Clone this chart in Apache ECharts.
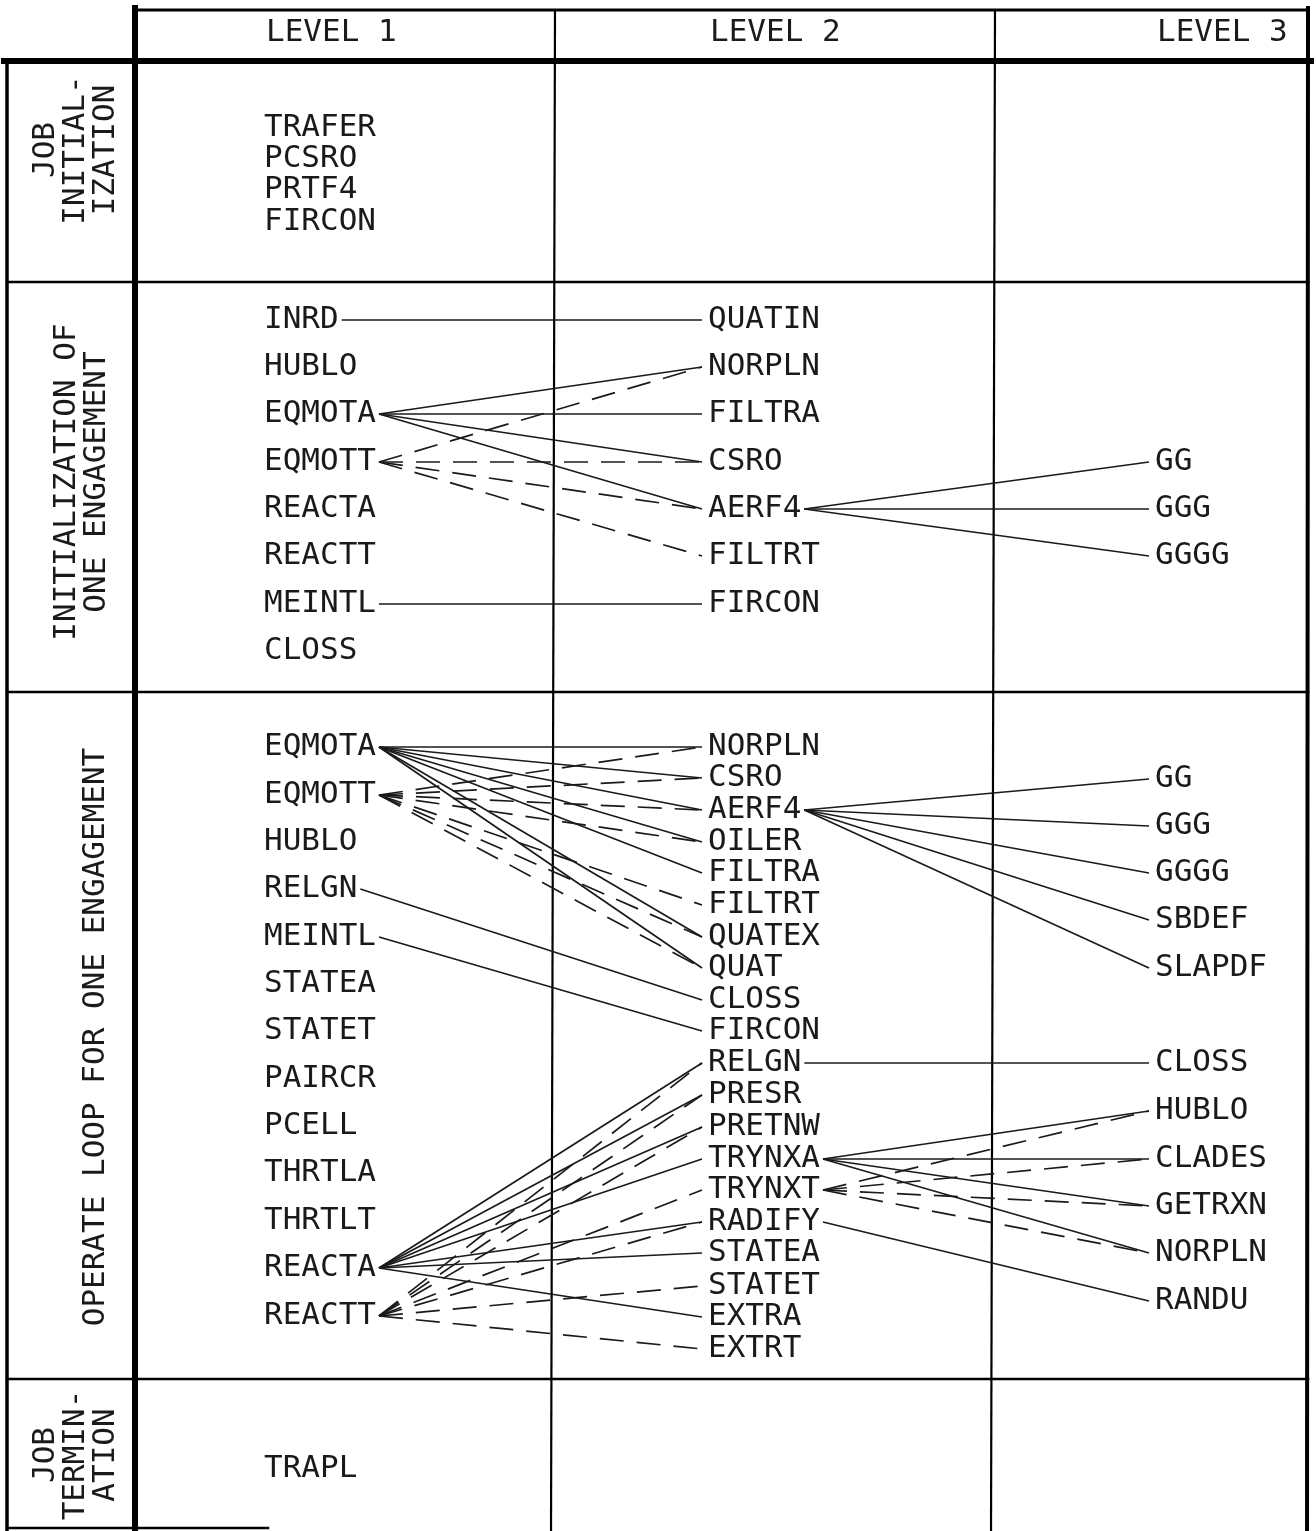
<!DOCTYPE html>
<html><head><meta charset="utf-8">
<script src="https://cdn.jsdelivr.net/npm/echarts@6/dist/echarts.min.js"></script>
<style>html,body{margin:0;padding:0;background:#fff}#c{width:1316px;height:1531px}</style>
</head><body><div id="c"></div><script>
// ---------------- DATA ----------------
const levelHeaders = ['LEVEL 1', 'LEVEL 2', 'LEVEL 3'];
const sectionTitles = ['JOB\nINITIAL-\nIZATION', 'INITIALIZATION OF\nONE ENGAGEMENT', 'OPERATE LOOP FOR ONE ENGAGEMENT', 'JOB\nTERMIN-\nATION'];

// routines per level: [section, name, row position]
const level1Routines = [
  [1,'TRAFER',128],[1,'PCSRO',159],[1,'PRTF4',190],[1,'FIRCON',222],
  [2,'INRD',320],[2,'HUBLO',367],[2,'EQMOTA',414],[2,'EQMOTT',462],[2,'REACTA',509],[2,'REACTT',556],[2,'MEINTL',604],[2,'CLOSS',651],
  [3,'EQMOTA',747],[3,'EQMOTT',795],[3,'HUBLO',842],[3,'RELGN',889],[3,'MEINTL',937],[3,'STATEA',984],[3,'STATET',1031],
  [3,'PAIRCR',1079],[3,'PCELL',1126],[3,'THRTLA',1173],[3,'THRTLT',1221],[3,'REACTA',1268],[3,'REACTT',1316],
  [4,'TRAPL',1469]
];
const level2Routines = [
  [2,'QUATIN',320],[2,'NORPLN',367],[2,'FILTRA',414],[2,'CSRO',462],[2,'AERF4',509],[2,'FILTRT',556],[2,'FIRCON',604],
  [3,'NORPLN',747],[3,'CSRO',778],[3,'AERF4',810],[3,'OILER',842],[3,'FILTRA',873],[3,'FILTRT',905],[3,'QUATEX',937],
  [3,'QUAT',968],[3,'CLOSS',1000],[3,'FIRCON',1031],[3,'RELGN',1063],[3,'PRESR',1095],[3,'PRETNW',1127],[3,'TRYNXA',1159],
  [3,'TRYNXT',1190],[3,'RADIFY',1222],[3,'STATEA',1253],[3,'STATET',1286],[3,'EXTRA',1317],[3,'EXTRT',1349]
];
const level3Routines = [
  [2,'GG',462],[2,'GGG',509],[2,'GGGG',556],
  [3,'GG',779],[3,'GGG',826],[3,'GGGG',873],[3,'SBDEF',920],[3,'SLAPDF',968],
  [3,'CLOSS',1063],[3,'HUBLO',1111],[3,'CLADES',1159],[3,'GETRXN',1206],[3,'NORPLN',1253],[3,'RANDU',1301]
];

// calls: [section, caller, callee, kind]  kind 'A' = solid, 'T' = dashed
const callsLevel1to2 = [
  [2,'INRD','QUATIN','A'],
  [2,'EQMOTA','NORPLN','A'],[2,'EQMOTA','FILTRA','A'],[2,'EQMOTA','CSRO','A'],[2,'EQMOTA','AERF4','A'],
  [2,'EQMOTT','NORPLN','T'],[2,'EQMOTT','CSRO','T'],[2,'EQMOTT','AERF4','T'],[2,'EQMOTT','FILTRT','T'],
  [2,'MEINTL','FIRCON','A'],
  [3,'EQMOTA','NORPLN','A'],[3,'EQMOTA','CSRO','A'],[3,'EQMOTA','AERF4','A'],[3,'EQMOTA','OILER','A'],
  [3,'EQMOTA','FILTRA','A'],[3,'EQMOTA','QUATEX','A'],[3,'EQMOTA','QUAT','A'],
  [3,'EQMOTT','NORPLN','T'],[3,'EQMOTT','CSRO','T'],[3,'EQMOTT','AERF4','T'],[3,'EQMOTT','OILER','T'],
  [3,'EQMOTT','FILTRT','T'],[3,'EQMOTT','QUATEX','T'],[3,'EQMOTT','QUAT','T'],
  [3,'RELGN','CLOSS','A'],[3,'MEINTL','FIRCON','A'],
  [3,'REACTA','RELGN','A'],[3,'REACTA','PRESR','A'],[3,'REACTA','PRETNW','A'],[3,'REACTA','TRYNXA','A'],
  [3,'REACTA','RADIFY','A'],[3,'REACTA','STATEA','A'],[3,'REACTA','EXTRA','A'],
  [3,'REACTT','RELGN','T'],[3,'REACTT','PRESR','T'],[3,'REACTT','PRETNW','T'],[3,'REACTT','TRYNXT','T'],
  [3,'REACTT','RADIFY','T'],[3,'REACTT','STATET','T'],[3,'REACTT','EXTRT','T']
];
const callsLevel2to3 = [
  [2,'AERF4','GG','A'],[2,'AERF4','GGG','A'],[2,'AERF4','GGGG','A'],
  [3,'AERF4','GG','A'],[3,'AERF4','GGG','A'],[3,'AERF4','GGGG','A'],[3,'AERF4','SBDEF','A'],[3,'AERF4','SLAPDF','A'],
  [3,'RELGN','CLOSS','A'],
  [3,'TRYNXA','HUBLO','A'],[3,'TRYNXA','CLADES','A'],[3,'TRYNXA','GETRXN','A'],[3,'TRYNXA','NORPLN','A'],
  [3,'TRYNXT','HUBLO','T'],[3,'TRYNXT','CLADES','T'],[3,'TRYNXT','GETRXN','T'],[3,'TRYNXT','NORPLN','T'],
  [3,'RADIFY','RANDU','A']
];

// ---------------- LAYOUT (not data) ----------------
const FONT_FAMILY = '"DejaVu Sans Mono", monospace';
const FONT_SIZE = 31;
const INK = '#1a1a1a';
const columnTextX = [264, 708, 1155];
const headerY = 33;
const sectionCenters = [[76,150],[82,482],[96,1037],[76,1455]];
const frameSegments = [ // x1,y1,x2,y2,width
  [138,10,1308,10,3],
  [4,61,1311,61,6],
  [7,61,7,1531,3.5],
  [135,8,135,1531,6],
  [555,10,551,1531,2.2],
  [995,10,991,1531,2.2],
  [1308,8,1307,1531,4],
  [7,282,1308,282,2.5],
  [7,692,1308,692,2.5],
  [7,1379,1308,1379,2.5],
  [7,1528,268,1528,2.5]
];

const measureCtx = document.createElement('canvas').getContext('2d');
measureCtx.font = FONT_SIZE + 'px ' + FONT_FAMILY;
const textWidth = s => measureCtx.measureText(s).width;

function findRoutine(list, sec, name) { return list.find(r => r[0] === sec && r[1] === name); }
function buildLinks(calls, fromList, toList, fromCol, toCol) {
  return calls.map(([sec, a, b, kind]) => {
    const s = findRoutine(fromList, sec, a), t = findRoutine(toList, sec, b);
    return [columnTextX[fromCol] + textWidth(a) + 3, s[2], columnTextX[toCol] - 6, t[2], kind === 'T' ? 1 : 0];
  });
}
const linkData = buildLinks(callsLevel1to2, level1Routines, level2Routines, 0, 1)
  .concat(buildLinks(callsLevel2to3, level2Routines, level3Routines, 1, 2));

const labelNames = [], labelData = [];
[level1Routines, level2Routines, level3Routines].forEach((list, col) => {
  list.forEach(r => { labelNames.push(r[1]); labelData.push([columnTextX[col], r[2]]); });
});
levelHeaders.forEach((h, i) => { labelNames.push(h); labelData.push([columnTextX[i] + 2, headerY]); });

const chart = echarts.init(document.getElementById('c'), null, { renderer: 'canvas' });
chart.setOption({
  animation: false,
  backgroundColor: '#fff',
  grid: { left: 0, right: 0, top: 0, bottom: 0 },
  xAxis: { type: 'value', min: 0, max: 1316, show: false },
  yAxis: { type: 'value', min: 0, max: 1531, inverse: true, show: false },
  series: [
    {
      type: 'custom', clip: false, data: frameSegments,
      renderItem: (p, api) => {
        const a = api.coord([api.value(0), api.value(1)]), b = api.coord([api.value(2), api.value(3)]);
        return { type: 'line', shape: { x1: a[0], y1: a[1], x2: b[0], y2: b[1] },
          style: { stroke: '#000', lineWidth: api.value(4), lineCap: 'square' } };
      }
    },
    {
      type: 'custom', clip: false, data: linkData,
      renderItem: (p, api) => {
        const a = api.coord([api.value(0), api.value(1)]), b = api.coord([api.value(2), api.value(3)]);
        const dashed = api.value(4) === 1;
        return { type: 'line', shape: { x1: a[0], y1: a[1], x2: b[0], y2: b[1] },
          style: { stroke: INK, lineWidth: 1.7, lineDash: dashed ? [24, 13] : null } };
      }
    },
    {
      type: 'custom', clip: false, data: labelData,
      renderItem: (p, api) => {
        const a = api.coord([api.value(0), api.value(1)]);
        return { type: 'text', x: a[0], y: a[1],
          style: { text: labelNames[p.dataIndex], fontFamily: FONT_FAMILY, fontSize: FONT_SIZE,
            fill: INK, align: 'left', verticalAlign: 'middle' } };
      }
    },
    {
      type: 'custom', clip: false, data: sectionCenters,
      renderItem: (p, api) => {
        const a = api.coord([api.value(0), api.value(1)]);
        return { type: 'text', x: a[0], y: a[1], rotation: Math.PI / 2,
          style: { text: sectionTitles[p.dataIndex], fontFamily: FONT_FAMILY, fontSize: FONT_SIZE,
            lineHeight: 30, fill: INK, align: 'center', verticalAlign: 'middle' } };
      }
    }
  ]
});
</script></body></html>
